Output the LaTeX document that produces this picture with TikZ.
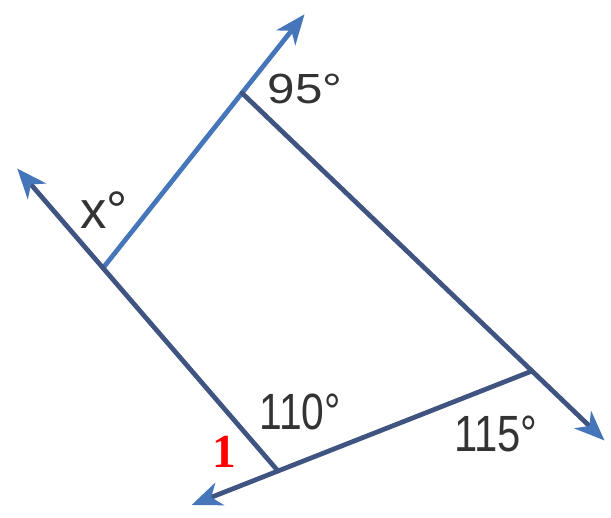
\documentclass[tikz,border=0pt]{standalone}
\usepackage{fontspec}
\usepackage{tikz}
\usetikzlibrary{arrows.meta,calc}
\newfontfamily\labelfont{Liberation Sans}
\newfontfamily\tagfont{Liberation Serif}
\definecolor{rayblue}{RGB}{70,118,186}
\definecolor{raydark}{RGB}{64,84,130}

\begin{document}
\begin{tikzpicture}[
  x=0.02cm,y=-0.02cm,
  ray/.style={draw=raydark,line width=2.7pt,line cap=round,
              -{Stealth[length=6mm,width=4.8mm,inset=1.8mm,color=rayblue]}},
  ang/.style={font=\labelfont,text=black!80,inner sep=0pt},
  tag/.style={font=\tagfont\bfseries\fontsize{27}{27}\selectfont,text=red,inner sep=0pt},
]
\useasboundingbox[fill=white] (0,0) rectangle (611,517);
% ---------- corners of the quadrilateral ----------
\coordinate (A) at (242,93);
\coordinate (B) at (103,268);
\coordinate (C) at (278,471);
\coordinate (D) at (532,371);
% ---------- ends of the rays ----------
\coordinate (tA) at ($(B)!1.45!(A)$);
\coordinate (tB) at ($(C)!1.49!(B)$);
\coordinate (tC) at ($(D)!1.34!(C)$);
\coordinate (tD) at ($(A)!1.25!(D)$);
% =================== rays ===================
\draw[ray,draw=rayblue] (B) -- (tA);
\draw[ray] (C) -- (tB);
\draw[ray] (D) -- (tC);
\draw[ray] (A) -- (tD);
% =================== angle labels ===================
\node[ang,font=\labelfont\fontsize{24}{24}\selectfont] (a95) at (305,89) {\scalebox{1.17}[1]{95°}};
\node[ang,font=\labelfont\fontsize{30}{30}\selectfont] (ax) at (104,210) {x°};
\node[ang,font=\labelfont\fontsize{29}{29}\selectfont] (a110) at (300,412) {\scalebox{0.8}[1]{110°}};
\node[ang,font=\labelfont\fontsize{29}{29}\selectfont] (a115) at (496,434) {\scalebox{0.82}[1]{115°}};
\node[tag] (one) at (224,452) {1};
\end{tikzpicture}
\end{document}
